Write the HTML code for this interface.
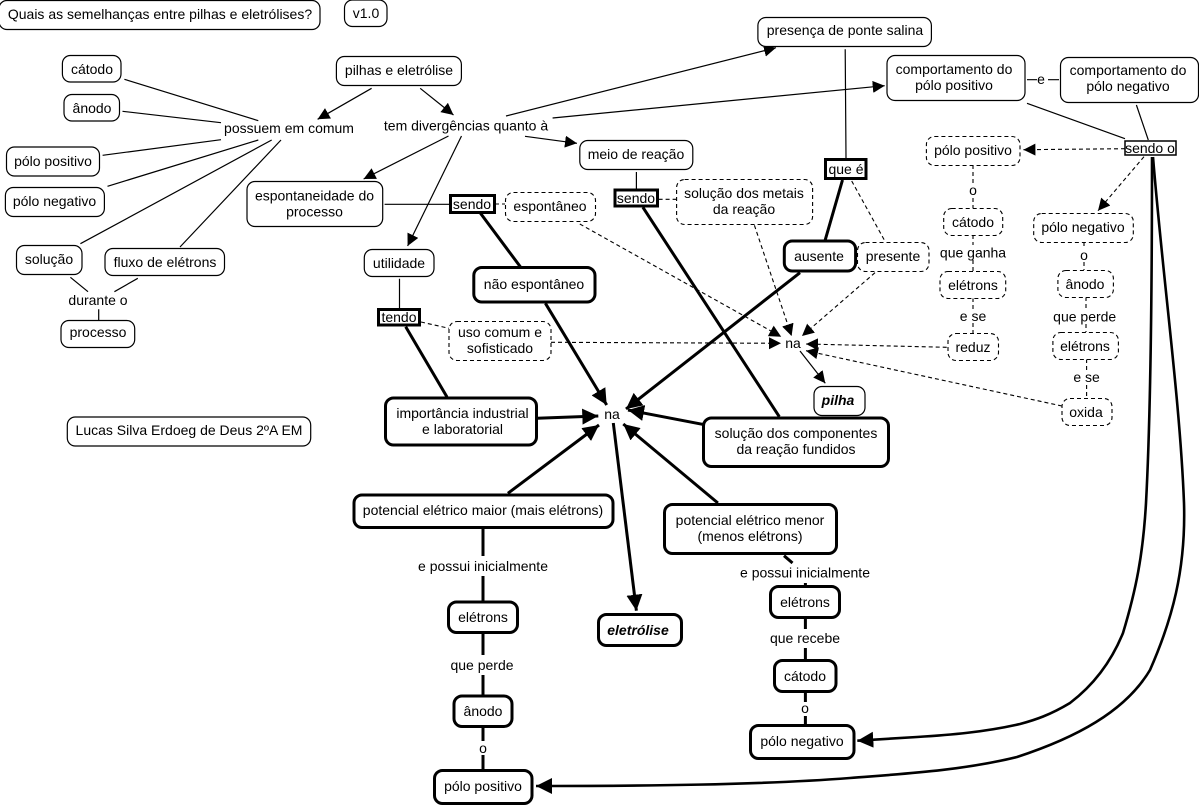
<!DOCTYPE html>
<html><head><meta charset="utf-8"><title>Pilhas e eletrólises</title>
<style>
html,body{margin:0;padding:0;background:#fff;width:1199px;height:806px;overflow:hidden}
svg{display:block}
text{font-family:"Liberation Sans",Arial,sans-serif;font-size:14px;fill:#000;text-anchor:middle}
rect{fill:#fff;stroke:#000}
.n{stroke-width:1.2}
.t{stroke-width:3}
.d{stroke-width:1.1;stroke-dasharray:4 3}
.s{stroke-width:1.5}
.l{stroke:#000;stroke-width:1.2;fill:none}
.h{stroke:#000;stroke-width:3;fill:none}
.m{stroke:#000;stroke-width:2.6;fill:none}
.a{stroke:#000;stroke-width:1.1;fill:none;stroke-dasharray:4 3}
</style></head><body>
<svg xmlns="http://www.w3.org/2000/svg" width="1199" height="806" viewBox="0 0 1199 806">
<defs>
<marker id="A" markerUnits="userSpaceOnUse" markerWidth="16" markerHeight="14" refX="12" refY="6" orient="auto"><path d="M0 0L12 6L0 12z" fill="#000"/></marker>
<marker id="B" markerUnits="userSpaceOnUse" markerWidth="20" markerHeight="18" refX="16" refY="8" orient="auto"><path d="M0 0L16 8L0 16z" fill="#000"/></marker>
</defs>

<!-- thin connectors -->
<path class="l" d="M124.4 79.3L258.3 120.7M122.5 111.3L221 122.7M102.6 155.3L221 139.7M107.5 186.3L258.3 140M80.4 243.7L271.7 140M180 247L281 140M70.4 277.3L88 291.7M137.8 278.3L114.4 291.7M98.7 309.3V320"/>
<path class="l" marker-end="url(#A)" d="M371.6 88.3L317.6 119.3"/>
<path class="l" marker-end="url(#A)" d="M420.2 88.3L453.5 115"/>
<path class="l" marker-end="url(#A)" d="M506 116L776 47.7"/>
<path class="l" marker-end="url(#A)" d="M552.6 118L884.7 85.7"/>
<path class="l" marker-end="url(#A)" d="M525 136.3L577 143.3"/>
<path class="l" marker-end="url(#A)" d="M448.5 136L363.6 179"/>
<path class="l" marker-end="url(#A)" d="M461.5 136L407.6 246"/>
<path class="l" d="M384.6 204.3H449M399.5 278.7V308M636.4 172V189M845.2 49.3L846 158M1027 103.3L1125 138.7M1136.4 105L1148.3 140M1027 79.7H1037M1048 79.7H1059"/>
<path class="l" marker-end="url(#A)" d="M800 351L825.3 383.3"/>

<!-- dashed connectors -->
<path class="a" d="M495 204H505M421 322L449 328.3M658.6 199.3H676.6M851.7 181L885.4 242M973 165V184M973 198V208M973 235V245M973 260V271M973 298V309M973 323V333M1084 242V248M1084 262V270M1086 297V309M1086 324V332M1086.6 359V370M1086.6 385V398"/>
<path class="a" marker-end="url(#A)" d="M551 342.3L781 343.3"/>
<path class="a" marker-end="url(#A)" d="M579.8 224L781.2 336.7"/>
<path class="a" marker-end="url(#A)" d="M754.4 225.3L791.6 336"/>
<path class="a" marker-end="url(#A)" d="M875 272.7L802 336"/>
<path class="a" marker-end="url(#A)" d="M946.7 347.3L806 344"/>
<path class="a" marker-end="url(#A)" d="M1062 406L806 350.7"/>
<path class="a" marker-end="url(#A)" d="M1125 148.7L1023.4 149.7"/>
<path class="a" marker-end="url(#A)" d="M1144 156.7L1098 210.7"/>

<!-- thick connectors -->
<path class="h" d="M480.3 213L520.5 267M405.7 326.7L447 397M642.9 207.3L779.3 416.7M842.5 180L825 240.7M483 528V556M483 576V601M483 632V655M483 675V695M483 727V741M483 755V770M784 555.7L792.5 563M805.4 583V586M805.4 618V629M805.4 648V660M805.4 692V702M805.4 716V725"/>
<path class="h" marker-end="url(#B)" d="M545.4 303.3L606.7 405"/>
<path class="h" marker-end="url(#B)" d="M537 418.3L598.3 416"/>
<path class="h" marker-end="url(#B)" d="M507.9 493.3L599 425"/>
<path class="h" marker-end="url(#B)" d="M800 272.7L626 409"/>
<path class="h" marker-end="url(#B)" d="M702.5 424.3L628 410"/>
<path class="h" marker-end="url(#B)" d="M717.9 503L623.3 424"/>
<path class="h" marker-end="url(#B)" d="M613.3 423L636.4 610.7"/>
<path class="m" marker-end="url(#B)" d="M1152 157C1152 280 1151 410 1146 503C1143 555 1136 590 1123 633C1112 660 1095 684 1070 703C1050 715 1035 720 1020 724C985 732 950 735 917 737L857.3 740.7"/>
<path class="m" marker-end="url(#B)" d="M1153 157C1163 280 1180 400 1184 503C1186 570 1172 620 1150 670C1125 712 1075 738 1017 757C960 771 900 774 850 778C760 785 640 786 536 786"/>

<!-- normal nodes -->
<rect class="n" x="-1" y="0.5" width="321" height="29" rx="8"/><text x="160" y="19">Quais as semelhanças entre pilhas e eletrólises?</text>
<rect class="n" x="344.5" y="0" width="42.5" height="26.5" rx="8"/><text x="366" y="18">v1.0</text>
<rect class="n" x="62.4" y="55.5" width="58.6" height="26.5" rx="8"/><text x="92" y="74">cátodo</text>
<rect class="n" x="64" y="94.5" width="55.5" height="26.5" rx="8"/><text x="92" y="113">ânodo</text>
<rect class="n" x="6.5" y="147" width="93" height="29" rx="8"/><text x="53" y="166">pólo positivo</text>
<rect class="n" x="5.4" y="187.5" width="99" height="29" rx="8"/><text x="54.5" y="206">pólo negativo</text>
<rect class="n" x="16.5" y="245.5" width="65.5" height="29" rx="8"/><text x="49" y="264">solução</text>
<rect class="n" x="105" y="248.5" width="119.5" height="27" rx="8"/><text x="165" y="267">fluxo de elétrons</text>
<rect class="n" x="61" y="320.5" width="73.7" height="27" rx="8"/><text x="98" y="337">processo</text>
<rect class="n" x="336.4" y="56.5" width="125" height="29" rx="8"/><text x="399" y="75">pilhas e eletrólise</text>
<rect class="n" x="247" y="181.5" width="135.7" height="45" rx="8"/><text x="314.5" y="200.5">espontaneidade do</text><text x="314.5" y="216.5">processo</text>
<rect class="n" x="364.3" y="249.5" width="69.7" height="27" rx="8"/><text x="399" y="268">utilidade</text>
<rect class="n" x="579.8" y="140.5" width="113" height="29" rx="8"/><text x="636" y="159">meio de reação</text>
<rect class="n" x="757.9" y="17.5" width="173.5" height="29" rx="8"/><text x="845" y="35">presença de ponte salina</text>
<rect class="n" x="887" y="55.5" width="138" height="45" rx="8"/><text x="954" y="74">comportamento do</text><text x="954" y="90">pólo positivo</text>
<rect class="n" x="1060.5" y="57.5" width="138" height="45" rx="8"/><text x="1128" y="75">comportamento do</text><text x="1128" y="91">pólo negativo</text>
<rect class="n" x="814" y="386.5" width="51" height="29" rx="8"/><text x="838" y="405" style="font-weight:bold;font-style:italic">pilha</text>
<rect class="n" x="67.3" y="417" width="243.4" height="29" rx="8"/><text x="189" y="435">Lucas Silva Erdoeg de Deus 2ºA EM</text>

<!-- dashed nodes -->
<rect class="d" x="505.5" y="192.5" width="90" height="29" rx="8"/><text x="550" y="211">espontâneo</text>
<rect class="d" x="449" y="321.5" width="102" height="39" rx="8"/><text x="500" y="337">uso comum e</text><text x="500" y="353">sofisticado</text>
<rect class="d" x="676.6" y="179.5" width="136" height="45" rx="8"/><text x="744" y="198">solução dos metais</text><text x="744" y="214">da reação</text>
<rect class="d" x="857.5" y="242.5" width="71.5" height="29" rx="8"/><text x="893" y="261">presente</text>
<rect class="d" x="926.4" y="136.5" width="93.6" height="29" rx="8"/><text x="973" y="155">pólo positivo</text>
<rect class="d" x="943.7" y="208.5" width="59" height="27" rx="8"/><text x="973" y="227">cátodo</text>
<rect class="d" x="940" y="271.5" width="65.7" height="27" rx="8"/><text x="973" y="290">elétrons</text>
<rect class="d" x="948" y="333.5" width="50.5" height="27" rx="8"/><text x="973" y="352">reduz</text>
<rect class="d" x="1033.7" y="213.5" width="99.6" height="29" rx="8"/><text x="1083" y="232">pólo negativo</text>
<rect class="d" x="1057.9" y="270.5" width="55.5" height="27" rx="8"/><text x="1085" y="289">ânodo</text>
<rect class="d" x="1052.9" y="332.5" width="65.5" height="27" rx="8"/><text x="1085" y="351">elétrons</text>
<rect class="d" x="1062" y="398.5" width="50" height="27" rx="8"/><text x="1086" y="417">oxida</text>

<!-- thick nodes -->
<rect class="t" x="473.8" y="267.5" width="121.2" height="34.5" rx="8"/><text x="534" y="289">não espontâneo</text>
<rect class="t" x="784.3" y="241" width="71.3" height="30" rx="8"/><text x="819" y="261">ausente</text>
<rect class="t" x="385.5" y="398" width="151" height="47" rx="8"/><text x="462.5" y="418">importância industrial</text><text x="462.5" y="434">e laboratorial</text>
<rect class="t" x="703.5" y="418" width="185" height="48.5" rx="8"/><text x="796" y="438">solução dos componentes</text><text x="796" y="454">da reação fundidos</text>
<rect class="t" x="354" y="495" width="259" height="32.5" rx="8"/><text x="483" y="515">potencial elétrico maior (mais elétrons)</text>
<rect class="t" x="664.5" y="504.5" width="172" height="49" rx="8"/><text x="750" y="525">potencial elétrico menor</text><text x="750" y="541">(menos elétrons)</text>
<rect class="t" x="448.5" y="602" width="69" height="30.5" rx="8"/><text x="483" y="622">elétrons</text>
<rect class="t" x="454" y="696" width="58" height="30.5" rx="8"/><text x="483" y="716">ânodo</text>
<rect class="t" x="434.5" y="770.5" width="97.5" height="33" rx="8"/><text x="483" y="791">pólo positivo</text>
<rect class="t" x="598.5" y="614.5" width="83" height="31" rx="8"/><text x="638" y="635" style="font-weight:bold;font-style:italic">eletrólise</text>
<rect class="t" x="770.5" y="586.5" width="69" height="31" rx="8"/><text x="805" y="607">elétrons</text>
<rect class="t" x="774.5" y="660.5" width="61.5" height="31" rx="8"/><text x="805" y="681">cátodo</text>
<rect class="t" x="750.5" y="725.5" width="103.5" height="33" rx="8"/><text x="802" y="746">pólo negativo</text>

<!-- linking phrase boxes -->
<rect class="t" x="450.5" y="195.5" width="44" height="17" rx="0"/><text x="472" y="209">sendo</text>
<rect class="t" x="378.5" y="309.5" width="41" height="15.5" rx="0"/><text x="399" y="322">tendo</text>
<rect class="t" x="615" y="190" width="42.5" height="16" rx="0"/><text x="636" y="203">sendo</text>
<rect class="t" x="825.5" y="159.5" width="40.5" height="19" rx="0"/><text x="846" y="174">que é</text>
<rect class="s" x="1125" y="141" width="51" height="14" rx="0"/><text x="1150" y="153">sendo o</text>

<!-- free labels -->
<text x="289" y="133">possuem em comum</text>
<text x="466" y="130.5">tem divergências quanto à</text>
<text x="98" y="305">durante o</text>
<text x="1041" y="84">e</text>
<text x="973" y="195">o</text>
<text x="973" y="257.5">que ganha</text>
<text x="973" y="321">e se</text>
<text x="1084" y="260">o</text>
<text x="1084.7" y="321.5">que perde</text>
<text x="1086.6" y="382">e se</text>
<text x="793" y="348">na</text>
<text x="612" y="419">na</text>
<text x="483" y="571">e possui inicialmente</text>
<text x="482" y="670">que perde</text>
<text x="483" y="753">o</text>
<text x="805" y="577.5">e possui inicialmente</text>
<text x="805" y="643">que recebe</text>
<text x="805" y="713">o</text>
</svg>
</body></html>
